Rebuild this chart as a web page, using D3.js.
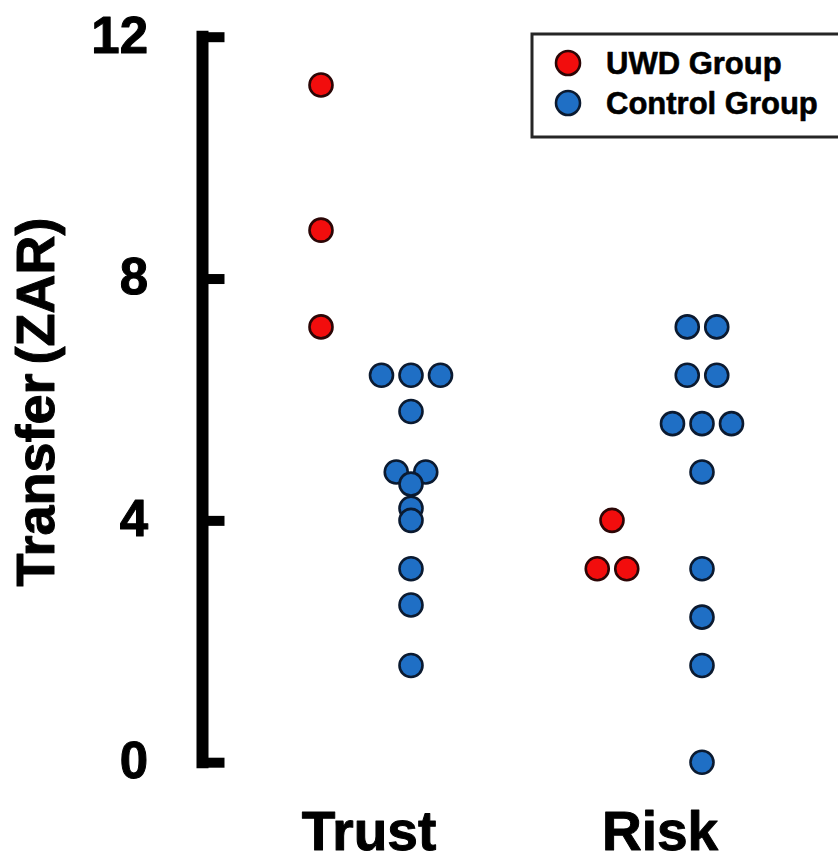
<!DOCTYPE html>
<html>
<head>
<meta charset="utf-8">
<script src="https://cdn.jsdelivr.net/npm/d3@7/dist/d3.min.js"></script>
<style>
  html, body { margin: 0; padding: 0; background: #ffffff; }
  svg { display: block; }
</style>
</head>
<body>
<svg id="chart"></svg>
<script>
const WIDTH = 838;
const HEIGHT = 863;

// values (ZAR)
const categories = ['Trust', 'Risk'];
const groups = ['UWD Group', 'Control Group'];
const trustUWD = [11.2, 8.8, 7.2];
const trustControl = [6.4, 6.4, 6.4, 5.8, 4.8, 4.8, 4.6, 4.2, 4.0, 3.2, 2.6, 1.6];
const riskUWD = [4.0, 3.2, 3.2];
const riskControl = [7.2, 7.2, 6.4, 6.4, 5.6, 5.6, 5.6, 4.8, 3.2, 2.4, 1.6, 0];
const yTicks = [0, 4, 8, 12];

const GROUP_FILL = { 'UWD Group': '#f20d0d', 'Control Group': '#1f6fc5' };
const GROUP_STROKE = { 'UWD Group': '#2b0606', 'Control Group': '#0b1a30' };

const DOT_R = 11.5;
const SWARM_STEP = 29.5;
const FONT = '"Liberation Sans", Arial, Helvetica, sans-serif';

const series = [
  { category: 'Trust', group: 'UWD Group', values: trustUWD },
  { category: 'Trust', group: 'Control Group', values: trustControl },
  { category: 'Risk', group: 'UWD Group', values: riskUWD },
  { category: 'Risk', group: 'Control Group', values: riskControl }
];

const svg = d3.select('#chart')
  .attr('width', WIDTH)
  .attr('height', HEIGHT)
  .attr('viewBox', `0 0 ${WIDTH} ${HEIGHT}`);

const y = d3.scaleLinear()
  .domain([0, 12])
  .range([762.2, 36.7]);

const x = d3.scalePoint()
  .domain(categories)
  .range([366, 657]);

const xGroup = d3.scalePoint()
  .domain(groups)
  .range([-45, 45]);

// heavy text, the figure's type is set very bold
function boldText(sel, size) {
  sel.attr('fill', '#000')
    .attr('font-family', FONT)
    .attr('font-weight', 700)
    .attr('font-size', size)
    .attr('stroke', '#000')
    .attr('stroke-width', 1)
    .attr('stroke-linejoin', 'round');
}

// axis: thick spine, ticks pointing into the plot, labels far to the left
const axisX = 202.5;
const yAxis = d3.axisLeft(y)
  .tickValues(yTicks)
  .tickFormat(d3.format('d'))
  .tickSizeInner(-22)
  .tickSizeOuter(0)
  .tickPadding(54.5);

const axisG = svg.append('g')
  .attr('transform', `translate(${axisX},0)`)
  .call(yAxis);

axisG.select('.domain')
  .attr('stroke', '#000')
  .attr('stroke-width', 12)
  .attr('stroke-linecap', 'square')
  .attr('d', `M0,${y(0)}V${y(12)}`);

axisG.selectAll('.tick line')
  .attr('stroke', '#000')
  .attr('stroke-width', 10);

axisG.selectAll('.tick text')
  .call(boldText, 51)
  .attr('dy', '0.3em');

svg.append('text')
  .attr('transform', 'translate(54,402) rotate(-90)')
  .attr('text-anchor', 'middle')
  .attr('word-spacing', -6)
  .call(boldText, 54)
  .text('Transfer (ZAR)');

// category labels
svg.append('g')
  .selectAll('text')
  .data(categories)
  .join('text')
  .attr('x', (d) => x(d) + 3)
  .attr('y', 850)
  .attr('text-anchor', 'middle')
  .call(boldText, 55)
  .text((d) => d);

// dot-plot layout: equal values sit side by side, centred on the group column
function layout(s) {
  const counts = d3.rollup(s.values, (v) => v.length, (v) => v);
  const seen = new Map();
  return s.values.map((v) => {
    const n = counts.get(v);
    const i = seen.get(v) || 0;
    seen.set(v, i + 1);
    return {
      group: s.group,
      value: v,
      cx: x(s.category) + xGroup(s.group) + (i - (n - 1) / 2) * SWARM_STEP,
      cy: y(v)
    };
  });
}

const dots = series.flatMap(layout);

svg.append('g')
  .selectAll('circle')
  .data(dots)
  .join('circle')
  .attr('cx', (d) => d.cx)
  .attr('cy', (d) => d.cy)
  .attr('r', DOT_R)
  .attr('fill', (d) => GROUP_FILL[d.group])
  .attr('stroke', (d) => GROUP_STROKE[d.group])
  .attr('stroke-width', 2.6);

// legend
const legend = svg.append('g');

legend.append('rect')
  .attr('x', 532)
  .attr('y', 34)
  .attr('width', 330)
  .attr('height', 103)
  .attr('fill', '#fff')
  .attr('stroke', '#262626')
  .attr('stroke-width', 3);

const legendItem = legend.selectAll('g.item')
  .data(groups)
  .join('g')
  .attr('class', 'item')
  .attr('transform', (d, i) => `translate(568,${63 + i * 40})`);

legendItem.append('circle')
  .attr('r', 12)
  .attr('fill', (d) => GROUP_FILL[d])
  .attr('stroke', (d) => GROUP_STROKE[d])
  .attr('stroke-width', 2.6);

legendItem.append('text')
  .attr('x', 38)
  .attr('dy', '0.36em')
  .call(boldText, 31)
  .attr('stroke-width', 0.6)
  .text((d) => d);
</script>
</body>
</html>
